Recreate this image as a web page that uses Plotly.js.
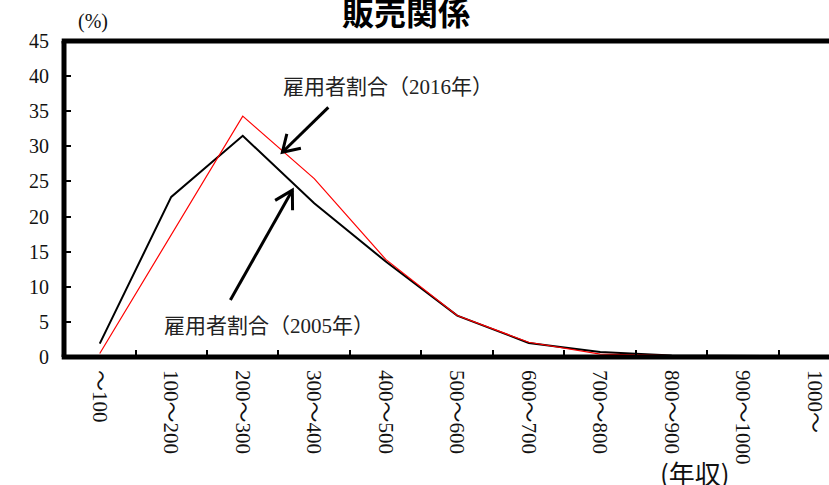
<!DOCTYPE html>
<html>
<head>
<meta charset="utf-8">
<script src="https://cdn.plot.ly/plotly-3.0.1.min.js"></script>
<style>
html,body{margin:0;padding:0;background:#fff;overflow:hidden;}
#chart{width:829px;height:485px;}
</style>
</head>
<body>
<div id="chart"></div>
<script>
// ---- data ----
const categories = ["～100","100～200","200～300","300～400","400～500","500～600","600～700","700～800","800～900","900～1000","1000～"];
const share2005 = [1.9, 22.8, 31.5, 21.9, 13.6, 5.9, 2.0, 0.7, 0.2, 0.1, 0.1];
const share2016 = [0.5, 17.4, 34.3, 25.4, 13.9, 5.9, 2.1, 0.4, 0.2, 0.2, 0.2];
const yTicks = [0, 5, 10, 15, 20, 25, 30, 35, 40, 45];
const chartTitle = "販売関係";
const label2005 = "雇用者割合（2005年）";
const label2016 = "雇用者割合（2016年）";
const yUnit = "(%)";
const xUnit = "(年収)";

// ---- layout geometry ----
const W = 829, H = 485;
const M = {l: 63.5, r: 0, t: 40.6, b: 128};
const PW = W - M.l - M.r, PH = H - M.t - M.b;
const px = x => (x - M.l) / PW;
const py = y => (H - M.b - y) / PH;

const serif = "Liberation Serif, Noto Sans CJK JP, serif";
const cjk = "Noto Sans CJK JP, sans-serif";

function arrowShapes(tx, ty, hx, hy, len, ang) {
  const dx = tx - hx, dy = ty - hy;
  const base = Math.atan2(dy, dx);
  const a = ang * Math.PI / 180;
  const w1 = [hx + len * Math.cos(base + a), hy + len * Math.sin(base + a)];
  const w2 = [hx + len * Math.cos(base - a), hy + len * Math.sin(base - a)];
  const line = {type: "line", xref: "paper", yref: "paper",
    x0: px(tx), y0: py(ty), x1: px(hx), y1: py(hy),
    line: {color: "#000", width: 3}, layer: "above"};
  const head = {type: "path", xref: "paper", yref: "paper",
    path: `M ${px(w1[0])} ${py(w1[1])} L ${px(hx)} ${py(hy)} L ${px(w2[0])} ${py(w2[1])}`,
    line: {color: "#000", width: 3}, layer: "above"};
  return [line, head];
}

const borders = [
  {type: "line", xref: "paper", yref: "paper", x0: 0, x1: 0, y0: 0, y1: 1, line: {color: "#000", width: 5}, layer: "above"},
  {type: "line", xref: "paper", yref: "paper", x0: -0.003, x1: 1, y0: 0, y1: 0, line: {color: "#000", width: 5}, layer: "above"},
  {type: "line", xref: "paper", yref: "paper", x0: -0.003, x1: 1, y0: 1, y1: 1, line: {color: "#000", width: 5}, layer: "above"}
];

const traces = [
  {x: categories, y: share2005, type: "scatter", mode: "lines", name: "2005",
   line: {color: "#000", width: 2}, cliponaxis: false},
  {x: categories, y: share2016, type: "scatter", mode: "lines", name: "2016",
   line: {color: "#ff0000", width: 1.2}, cliponaxis: false}
];

const layout = {
  width: W, height: H,
  margin: M,
  paper_bgcolor: "#fff", plot_bgcolor: "#fff",
  showlegend: false,
  font: {family: serif, color: "#111"},
  xaxis: {
    type: "category", range: [-0.5, 10.2],
    showline: false, showgrid: false, zeroline: false,
    ticks: "inside", tickson: "boundaries", ticklen: 7, tickwidth: 2, tickcolor: "#000",
    tickangle: 90, tickfont: {family: serif, size: 21, color: "#111"},
    ticklabelstandoff: 12
  },
  yaxis: {
    range: [0, 45], tickvals: yTicks, ticktext: yTicks.map(String),
    showline: false, showgrid: false, zeroline: false,
    ticks: "inside", ticklen: 7, tickwidth: 2, tickcolor: "#000",
    tickfont: {family: serif, size: 20, color: "#111"},
    ticklabelstandoff: 14
  },
  shapes: borders
    .concat(arrowShapes(328, 107, 282, 152, 19, 32))
    .concat(arrowShapes(230, 300, 292, 190, 20, 30)),
  annotations: [
    {text: "<b>" + chartTitle + "</b>", xref: "paper", yref: "paper", x: px(406), y: py(11),
     xanchor: "center", yanchor: "middle", showarrow: false, font: {family: cjk, size: 32, color: "#000"}},
    {text: yUnit, xref: "paper", yref: "paper", x: px(93), y: py(21),
     xanchor: "center", yanchor: "middle", showarrow: false, font: {family: serif, size: 20, color: "#111"}},
    {text: xUnit, xref: "paper", yref: "paper", x: px(695), y: py(473),
     xanchor: "center", yanchor: "middle", showarrow: false, font: {family: cjk, size: 26, color: "#111"}},
    {text: label2016, xref: "paper", yref: "paper", x: px(388), y: py(87),
     xanchor: "center", yanchor: "middle", showarrow: false, font: {family: serif, size: 21, color: "#222"}},
    {text: label2005, xref: "paper", yref: "paper", x: px(269), y: py(326),
     xanchor: "center", yanchor: "middle", showarrow: false, font: {family: serif, size: 21, color: "#222"}}
  ]
};

Plotly.newPlot("chart", traces, layout, {displayModeBar: false, staticPlot: true});
</script>
</body>
</html>
